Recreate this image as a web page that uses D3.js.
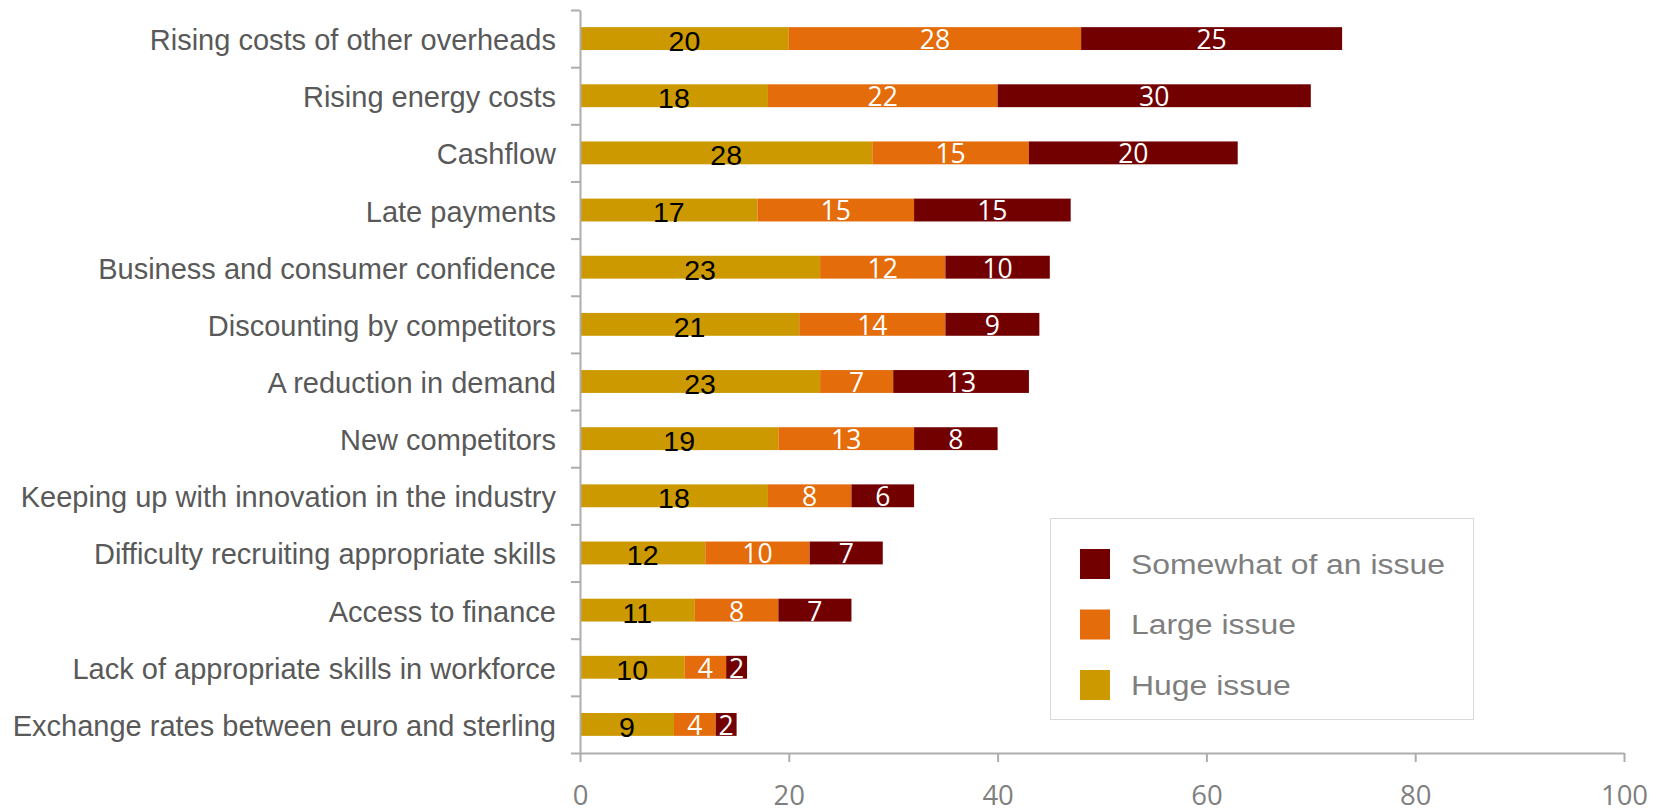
<!DOCTYPE html>
<html>
<head>
<meta charset="utf-8">
<script src="https://cdn.jsdelivr.net/npm/d3@7"></script>
<style>
  body { margin: 0; background: #fff; }
  svg { display: block; font-family: "Liberation Sans", Arial, sans-serif; }
</style>
</head>
<body>
<svg id="chart" width="1661" height="811"></svg>
<script>
// data, top bar first
var categories = [
  "Rising costs of other overheads",
  "Rising energy costs",
  "Cashflow",
  "Late payments",
  "Business and consumer confidence",
  "Discounting by competitors",
  "A reduction in demand",
  "New competitors",
  "Keeping up with innovation in the industry",
  "Difficulty recruiting appropriate skills",
  "Access to finance",
  "Lack of appropriate skills in workforce",
  "Exchange rates between euro and sterling"
];
var huge     = [20, 18, 28, 17, 23, 21, 23, 19, 18, 12, 11, 10, 9];
var large    = [28, 22, 15, 15, 12, 14, 7, 13, 8, 10, 8, 4, 4];
var somewhat = [25, 30, 20, 15, 10, 9, 13, 8, 6, 7, 7, 2, 2];
var seriesKeys = ["Huge issue", "Large issue", "Somewhat of an issue"];
var xTicks = [0, 20, 40, 60, 80, 100];

var colors = {
  "Huge issue": "#cc9900",
  "Large issue": "#e46c0a",
  "Somewhat of an issue": "#720000"
};

var rows = categories.map(function(c, i) {
  return { cat: c, "Huge issue": huge[i], "Large issue": large[i], "Somewhat of an issue": somewhat[i] };
});

var svg = d3.select("#chart");
var plotLeft = 580, plotRight = 1624, plotTop = 10, plotBottom = 753;

var x = d3.scaleLinear().domain([0, 100]).range([plotLeft, plotRight]);
var y = d3.scaleBand().domain(categories).range([plotTop, plotBottom])
  .paddingInner(0.6).paddingOuter(0.3);
var yEdge = d3.scaleLinear().domain([0, categories.length]).range([plotTop, plotBottom]);

var stacked = d3.stack().keys(seriesKeys)(rows);

// bars
svg.append("g").selectAll("g")
  .data(stacked)
  .enter().append("g")
    .attr("fill", function(d) { return colors[d.key]; })
  .selectAll("rect")
  .data(function(d) { return d; })
  .enter().append("rect")
    .attr("x", function(d) { return x(d[0]); })
    .attr("y", function(d) { return y(d.data.cat); })
    .attr("width", function(d) { return x(d[1]) - x(d[0]); })
    .attr("height", y.bandwidth());

// value labels inside bars
stacked.forEach(function(s, si) {
  svg.append("g").selectAll("text")
    .data(s)
    .enter().append("text")
      .attr("x", function(d) { return (x(d[0]) + x(d[1])) / 2; })
      .attr("y", function(d) {
        return si === 0 ? y(d.data.cat) + y.bandwidth() + 1 : y(d.data.cat) + y.bandwidth() - 1;
      })
      .attr("text-anchor", "middle")
      .style("font-family", si === 0 ? "'Liberation Sans', Arial, sans-serif" : "'Open Sans', sans-serif")
      .style("font-size", si === 0 ? "28.5px" : "26.5px")
      .attr("fill", si === 0 ? "#000" : "#fff")
      .text(function(d) { return d[1] - d[0]; });
});

// y axis (ticks between categories)
var yAxis = svg.append("g")
  .attr("transform", "translate(" + plotLeft + ",0)")
  .call(d3.axisLeft(yEdge).tickValues(d3.range(categories.length + 1))
    .tickSize(9).tickSizeOuter(0).tickFormat(""));

// x axis
var xAxis = svg.append("g")
  .attr("transform", "translate(0," + plotBottom + ")")
  .call(d3.axisBottom(x).tickValues(xTicks).tickSize(9).tickSizeOuter(0));
xAxis.selectAll("text")
  .attr("y", 52).attr("dy", 0)
  .style("font-family", "'Open Sans', sans-serif")
  .style("font-size", "27.5px")
  .attr("fill", "#7f7f7f");

[yAxis, xAxis].forEach(function(a) {
  a.select(".domain").attr("stroke", "#adadad").attr("stroke-width", 2);
  a.selectAll(".tick line").attr("stroke", "#adadad").attr("stroke-width", 2);
});

// category labels
svg.append("g").selectAll("text")
  .data(categories)
  .enter().append("text")
    .attr("x", 556)
    .attr("y", function(d) { return y(d) + y.bandwidth() / 2 + 11.5; })
    .attr("text-anchor", "end")
    .style("font-size", "29px")
    .attr("fill", "#595959")
    .text(function(d) { return d; });

// legend
var legend = svg.append("g");
legend.append("rect")
  .attr("x", 1050.5).attr("y", 518.5)
  .attr("width", 423).attr("height", 201)
  .attr("fill", "#fff").attr("stroke", "#d9d9d9");

var legendKeys = seriesKeys.slice().reverse();
var ly = d3.scalePoint().domain(legendKeys).range([564, 685]);

var item = legend.selectAll("g.item")
  .data(legendKeys)
  .enter().append("g").attr("class", "item");
item.append("rect")
  .attr("x", 1080)
  .attr("y", function(d) { return ly(d) - 15; })
  .attr("width", 30).attr("height", 30)
  .attr("fill", function(d) { return colors[d]; });
item.append("text")
  .attr("transform", function(d) { return "translate(1131," + (ly(d) + 9.5) + ") scale(1.14,1)"; })
  .style("font-size", "28px")
  .attr("fill", "#7f7f7f")
  .text(function(d) { return d; });
</script>
</body>
</html>
